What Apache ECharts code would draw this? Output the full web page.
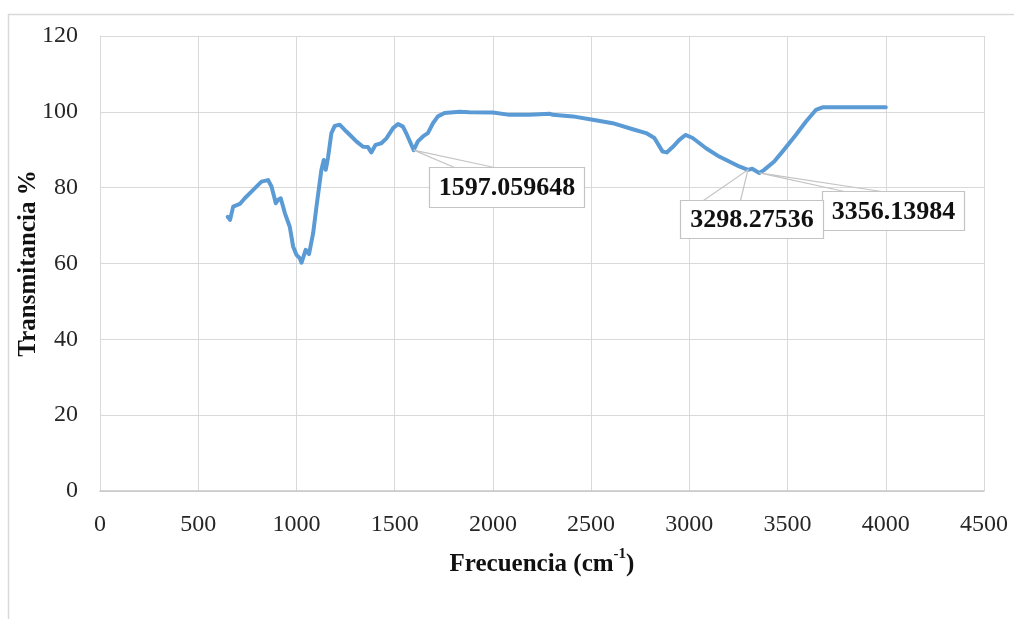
<!DOCTYPE html>
<html>
<head>
<meta charset="utf-8">
<script src="https://cdn.jsdelivr.net/npm/echarts@6/dist/echarts.min.js"></script>
<style>
  html, body { margin: 0; padding: 0; background: #fff; }
  #chart { width: 1014px; height: 619px; }
</style>
</head>
<body>
<div id="chart"></div>
<script>
// FTIR spectrum: wavenumber (cm-1) vs transmittance (%)
const wavenumber = [
  650, 662, 678, 712, 737, 780, 822, 856, 873, 895, 907, 920, 941, 966, 983,
  1000, 1017, 1026, 1047, 1064, 1085, 1102, 1127, 1139, 1149, 1161, 1178, 1195,
  1220, 1254, 1280, 1305, 1339, 1364, 1381, 1403, 1432, 1458, 1492, 1517, 1542,
  1563, 1597.059648, 1618, 1644, 1669, 1695, 1720, 1754, 1831, 1881, 2000, 2085,
  2186, 2288, 2305, 2407, 2508, 2610, 2712, 2780, 2822, 2864, 2885, 2915, 2949,
  2980, 3017, 3085, 3152, 3203, 3254, 3298.27536, 3320, 3345, 3356.13984, 3370,
  3381, 3432, 3474, 3542, 3593, 3644, 3678, 3700, 4000
];
const transmittance = [
  72.3, 71.5, 75.0, 75.7, 77.2, 79.4, 81.6, 82.0, 80.3, 75.9, 76.8, 77.2, 73.3, 69.7, 64.5,
  62.3, 61.4, 60.2, 63.6, 62.5, 68.0, 75.0, 84.7, 87.3, 84.7, 88.0, 94.4, 96.3,
  96.6, 94.8, 93.5, 92.2, 90.8, 90.7, 89.3, 91.3, 91.7, 93.0, 95.7, 96.8, 96.1,
  93.9, 89.9, 92.2, 93.5, 94.4, 97.0, 98.8, 99.7, 100.0, 99.9, 99.8, 99.2,
  99.2, 99.5, 99.2, 98.8, 97.9, 97.0, 95.4, 94.4, 93.1, 89.5, 89.3, 90.7, 92.6,
  93.9, 93.1, 90.4, 88.2, 86.9, 85.6, 84.7, 85.0, 84.2, 83.9, 84.3,
  84.7, 86.9, 89.5, 93.9, 97.4, 100.5, 101.2, 101.2, 101.2
];

// Peaks labelled with callouts
const peakWavenumber = [1597.059648, 3356.13984, 3298.27536];
const peakLabel = ['1597.059648', '3356.13984', '3298.27536'];

// Axis ticks
const xTicks = [0, 500, 1000, 1500, 2000, 2500, 3000, 3500, 4000, 4500];
const yTicks = [0, 20, 40, 60, 80, 100, 120];

// Callout box placement relative to its peak (pixels)
const calloutStyle = [
  { dx: 15, dy: 17, w: 155, h: 40, lead: [25, 65] },
  { dx: 63, dy: 18, w: 142, h: 39, lead: [22, 59] },
  { dx: -68, dy: 30, w: 143, h: 38, lead: [23, 60] }
];

const lineData = wavenumber.map((x, i) => [x, transmittance[i]]);
const peakData = peakWavenumber.map((x, i) => [x, transmittance[wavenumber.indexOf(x)], i]);

const chart = echarts.init(document.getElementById('chart'));
const serif = '"Liberation Serif", "Times New Roman", serif';

chart.setOption({
  animation: false,
  backgroundColor: '#ffffff',
  grid: { left: 100, right: 30, top: 36, bottom: 128, containLabel: false },
  graphic: [{
    type: 'rect',
    silent: true,
    z: -10,
    shape: { x: 8.5, y: 14.5, width: 1200, height: 800 },
    style: { fill: 'none', stroke: '#d9d9d9', lineWidth: 1.5 }
  }],
  xAxis: {
    type: 'value',
    min: xTicks[0],
    max: xTicks[xTicks.length - 1],
    interval: xTicks[1] - xTicks[0],
    name: '{a|Frecuencia (cm}{s|-1}{a|)}',
    nameLocation: 'middle',
    nameGap: 56,
    nameMoveOverlap: false,
    nameTextStyle: {
      rich: {
        a: { fontFamily: serif, fontWeight: 'bold', fontSize: 25, color: '#111', lineHeight: 30, verticalAlign: 'bottom' },
        s: { fontFamily: serif, fontWeight: 'bold', fontSize: 15, color: '#111', lineHeight: 30, verticalAlign: 'top' }
      }
    },
    axisLine: { show: true, onZero: false, lineStyle: { color: '#c6c6c6', width: 1.5 } },
    axisTick: { show: false },
    axisLabel: {
      fontFamily: serif, fontSize: 24, color: '#262626', margin: 22,
      formatter: v => String(v)
    },
    splitLine: { show: true, lineStyle: { color: '#d9d9d9', width: 1 } }
  },
  yAxis: {
    type: 'value',
    min: yTicks[0],
    max: yTicks[yTicks.length - 1],
    interval: yTicks[1] - yTicks[0],
    name: 'Transmitancia %',
    nameLocation: 'middle',
    nameGap: 59,
    nameMoveOverlap: false,
    nameTextStyle: { fontFamily: serif, fontWeight: 'bold', fontSize: 25, color: '#111' },
    axisLine: { show: true, lineStyle: { color: '#d9d9d9', width: 1 } },
    axisTick: { show: false },
    axisLabel: {
      fontFamily: serif, fontSize: 24, color: '#262626', margin: 22,
      formatter: v => String(v)
    },
    splitLine: { show: true, lineStyle: { color: '#d9d9d9', width: 1 } }
  },
  series: [
    {
      type: 'line',
      data: lineData,
      showSymbol: false,
      smooth: false,
      lineStyle: { color: '#5b9bd5', width: 4, join: 'round', cap: 'round' },
      z: 3
    },
    {
      type: 'custom',
      data: peakData,
      z: 5,
      renderItem: function (params, api) {
        const p = api.coord([api.value(0), api.value(1)]);
        const idx = api.value(2);
        const s = calloutStyle[idx];
        const bx = Math.round(p[0] + s.dx) + 0.5;
        const by = Math.round(p[1] + s.dy) + 0.5;
        return {
          type: 'group',
          z2: idx,
          children: [
            {
              type: 'polyline',
              shape: { points: [[bx + s.lead[0], by], [p[0], p[1]], [bx + s.lead[1], by]] },
              style: { fill: 'none', stroke: '#c4c4c4', lineWidth: 1.2 }
            },
            {
              type: 'rect',
              shape: { x: bx, y: by, width: s.w, height: s.h },
              style: { fill: '#ffffff', stroke: '#c4c4c4', lineWidth: 1.2 }
            },
            {
              type: 'text',
              style: {
                x: bx + s.w / 2,
                y: by + s.h / 2 + 1,
                text: peakLabel[idx],
                align: 'center',
                verticalAlign: 'middle',
                font: 'bold 26px ' + serif,
                fill: '#111'
              }
            }
          ]
        };
      }
    }
  ]
});
</script>
</body>
</html>
